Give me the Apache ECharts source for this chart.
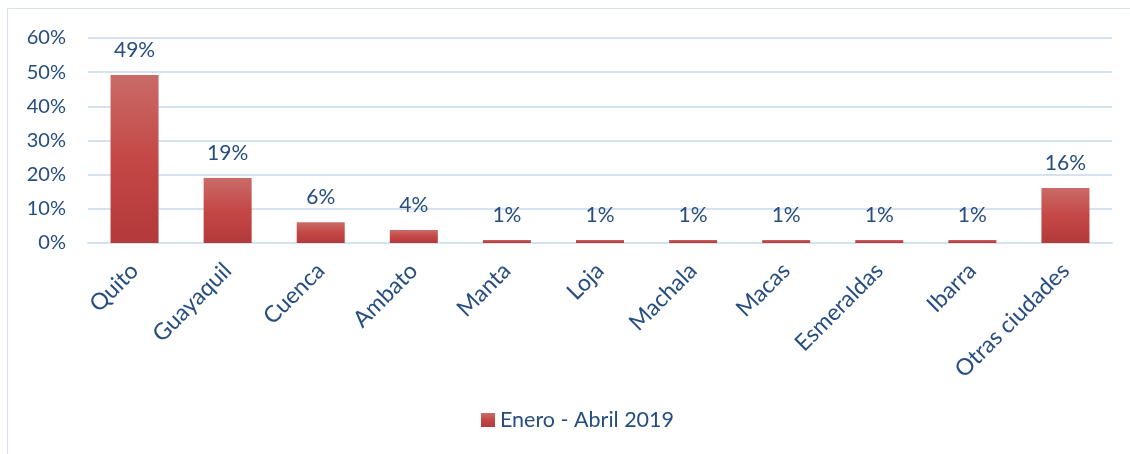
<!DOCTYPE html>
<html><head><meta charset="utf-8">
<script src="https://cdn.jsdelivr.net/npm/echarts@6/dist/echarts.min.js"></script>
<style>html,body{margin:0;padding:0;background:#fff}#c{width:1130px;height:454px}
#frame{position:absolute;left:7px;top:8px;width:1130px;height:460px;border:1px solid #d6e2f0;box-sizing:border-box;pointer-events:none}</style>
</head><body><div id="frame"></div><div id="c"></div>
<script>
const categories = ['Quito','Guayaquil','Cuenca','Ambato','Manta','Loja','Machala','Macas','Esmeraldas','Ibarra','Otras ciudades'];
const values = [49.2, 19.0, 6.1, 3.8, 0.9, 0.9, 0.9, 0.9, 0.9, 0.9, 16.1];
const seriesName = 'Enero - Abril 2019';
const textColor = '#264d80';
const font = 'Lato';
const chart = echarts.init(document.getElementById('c'));
chart.setOption({
  animation:false,
  textStyle:{fontFamily:font},
  grid:{left:88,right:18,top:38,bottom:211,containLabel:false},
  legend:{bottom:18,left:476,itemWidth:14,itemHeight:14,itemGap:5,
    textStyle:{color:textColor,fontSize:21.5,fontFamily:font},
    data:[{name:seriesName,icon:'rect'}]},
  xAxis:{type:'category',data:categories,
    axisLine:{lineStyle:{color:'#d6e2f0',width:2}},axisTick:{show:false},
    axisLabel:{rotate:45,color:textColor,fontSize:23,fontFamily:font,margin:24,interval:0}},
  yAxis:{type:'value',min:0,max:60,interval:10,
    axisLabel:{formatter:'{value}%',color:textColor,fontSize:20,fontFamily:font,margin:22},
    splitLine:{lineStyle:{color:'#d6e2f0',width:2}},axisLine:{show:false},axisTick:{show:false}},
  series:[{name:seriesName,type:'bar',data:values,barWidth:48,
    itemStyle:{color:new echarts.graphic.LinearGradient(0,0,0,1,[
      {offset:0,color:'#c96b68'},{offset:0.5,color:'#c44845'},{offset:1,color:'#b3393a'}])},
    label:{show:true,position:'top',distance:14,color:textColor,fontSize:21,fontFamily:font,
      formatter:p=>Math.round(p.value)+'%'}}]
});
</script></body></html>
